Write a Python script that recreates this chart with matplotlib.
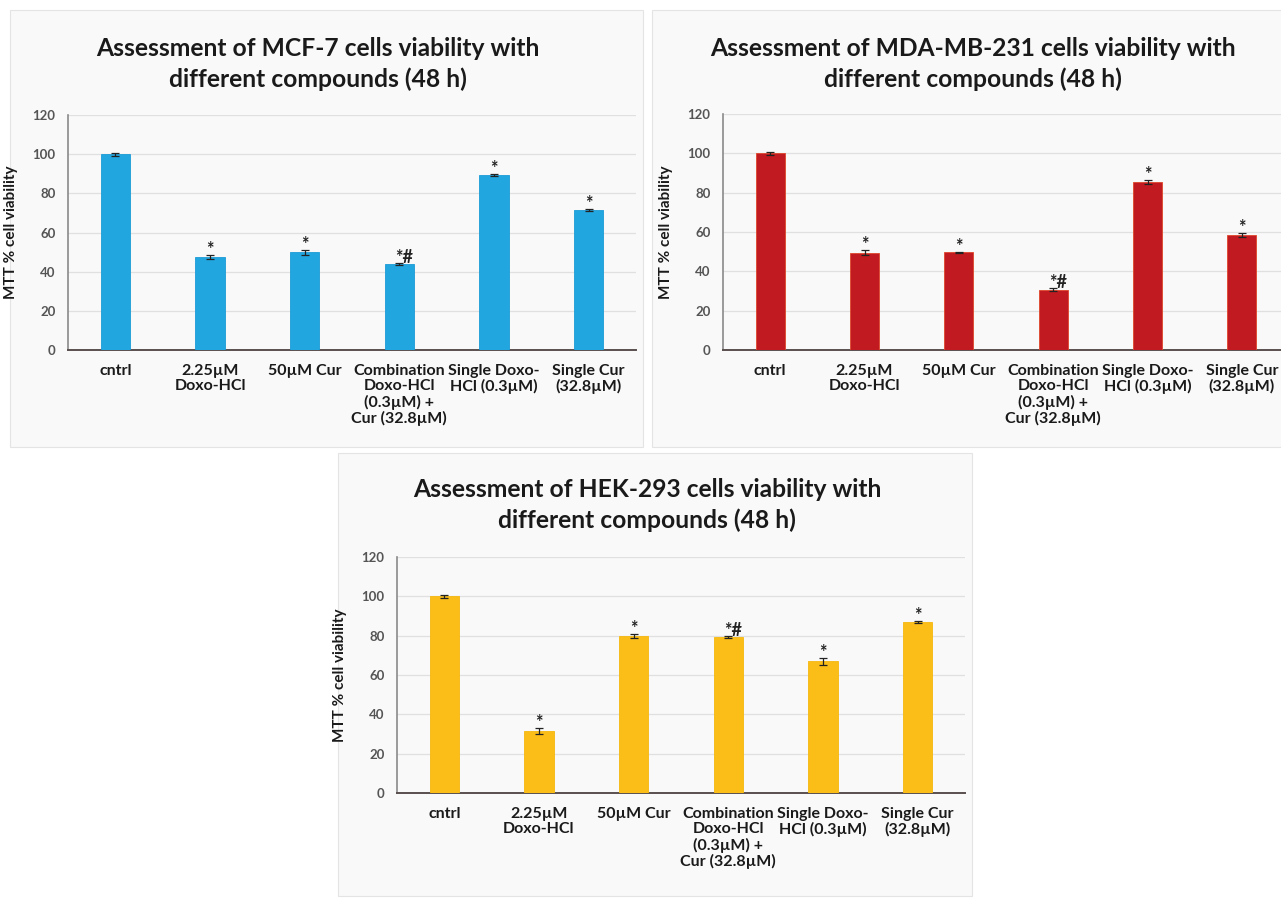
import matplotlib.pyplot as plt
from matplotlib.patches import Rectangle

# Данные: жизнеспособность клеток (МТТ, %) после 48 ч
categories = ["cntrl", "2.25µM\nDoxo-HCl", "50µM Cur",
              "Combination\nDoxo-HCl\n(0.3µM) +\nCur (32.8µM)",
              "Single Doxo-\nHCl (0.3µM)", "Single Cur\n(32.8µM)"]
sig_marks = ["", "*", "*", "*#", "*", "*"]

mcf7_viability = [100, 47.5, 49.8, 43.9, 89.4, 71.5]
mcf7_err = [0.8, 0.8, 1.2, 0.5, 0.6, 0.5]

mda_viability = [100, 49.5, 49.6, 30.6, 85.3, 58.5]
mda_err = [0.8, 1.2, 0.4, 0.8, 0.9, 0.8]

hek_viability = [100, 31.5, 79.8, 79.3, 66.9, 86.8]
hek_err = [0.7, 1.4, 1.2, 0.4, 1.6, 0.6]

titles = ["Assessment of MCF-7 cells viability with\ndifferent compounds (48 h)",
          "Assessment of MDA-MB-231 cells viability with\ndifferent compounds (48 h)",
          "Assessment of HEK-293 cells viability with\ndifferent compounds (48 h)"]
yticks = [0, 20, 40, 60, 80, 100, 120]

plt.rcParams['font.family'] = ['Lato', 'DejaVu Sans']

W, H = 1281, 899
fig = plt.figure(figsize=(W / 100, H / 100), dpi=100, facecolor="white")


def px_rect(x0, y0, x1, y1):
    # пиксели (сверху вниз) -> доли фигуры
    return [x0 / W, 1 - y1 / H, (x1 - x0) / W, (y1 - y0) / H]


# фоновые рамки панелей (как у диаграмм Excel)
for x0, y0, x1, y1 in [(10, 10, 643, 447), (652, 10, 1290, 447), (338, 453, 972, 896)]:
    r = px_rect(x0, y0, x1, y1)
    fig.patches.append(Rectangle((r[0], r[1]), r[2], r[3], transform=fig.transFigure,
                                 facecolor="#f9f9f9", edgecolor="#e4e4e4", lw=0.8, zorder=-10))


def draw_panel(ax, values, errs, color, edge):
    x = range(len(categories))
    ax.set_facecolor("none")
    ax.bar(x, values, width=0.31, color=color, edgecolor=edge, linewidth=0.6, zorder=3)
    ax.errorbar(x, values, yerr=errs, fmt="none", ecolor="#222222", elinewidth=0.9,
                capsize=3, capthick=0.9, zorder=4)
    for i, (v, e, m) in enumerate(zip(values, errs, sig_marks)):
        if not m:
            continue
        dx = -3 if m == "*#" else 0
        ax.annotate(m, (i, v + e), xytext=(dx, 0), textcoords="offset points",
                    ha="left" if m == "*#" else "center", va="baseline",
                    fontsize=13, fontweight="bold", color="#222222", zorder=5)
    ax.set_xlim(-0.5, len(categories) - 0.5)
    ax.set_ylim(0, 120)
    ax.set_yticks(yticks)
    ax.set_xticks(list(x))
    ax.set_xticklabels(categories, fontsize=11.5, fontweight="bold", color="#1a1a1a",
                       linespacing=1.12)
    ax.tick_params(axis="both", length=0)
    ax.tick_params(axis="y", pad=9, labelsize=9.5, labelcolor="#555555")
    ax.tick_params(axis="x", pad=10)
    for lbl in ax.get_yticklabels():
        lbl.set_fontweight("bold")
    ax.grid(axis="y", color="#e0e0e0", lw=0.9, zorder=0)
    ax.set_axisbelow(True)
    for s in ["top", "right"]:
        ax.spines[s].set_visible(False)
    ax.spines["left"].set_color("#8a8a8a")
    ax.spines["left"].set_linewidth(1.2)
    ax.spines["bottom"].set_color("#5a4f4f")
    ax.spines["bottom"].set_linewidth(1.4)
    ax.set_ylabel("MTT % cell viability", fontsize=11, fontweight="bold", color="#1a1a1a")
    ax.yaxis.set_label_coords(-0.088, 0.5)


ax1 = fig.add_axes(px_rect(68, 115, 636, 350))
draw_panel(ax1, mcf7_viability, mcf7_err, "#22a6e0", "#1b9bd6")
ax2 = fig.add_axes(px_rect(723, 114, 1289, 350))
draw_panel(ax2, mda_viability, mda_err, "#c11b21", "#e0452a")
ax3 = fig.add_axes(px_rect(397, 557, 965, 793))
draw_panel(ax3, hek_viability, hek_err, "#fbbd17", "#f5b80f")

# заголовки панелей
for (cx, cy), t in zip([(318, 64), (973, 64), (647, 505)], titles):
    fig.text(cx / W, 1 - cy / H, t, ha="center", va="center", fontsize=17.7,
             fontweight="bold", color="#1a1a1a", linespacing=1.42)

fig.savefig("out.png", dpi=100, facecolor=fig.get_facecolor())
